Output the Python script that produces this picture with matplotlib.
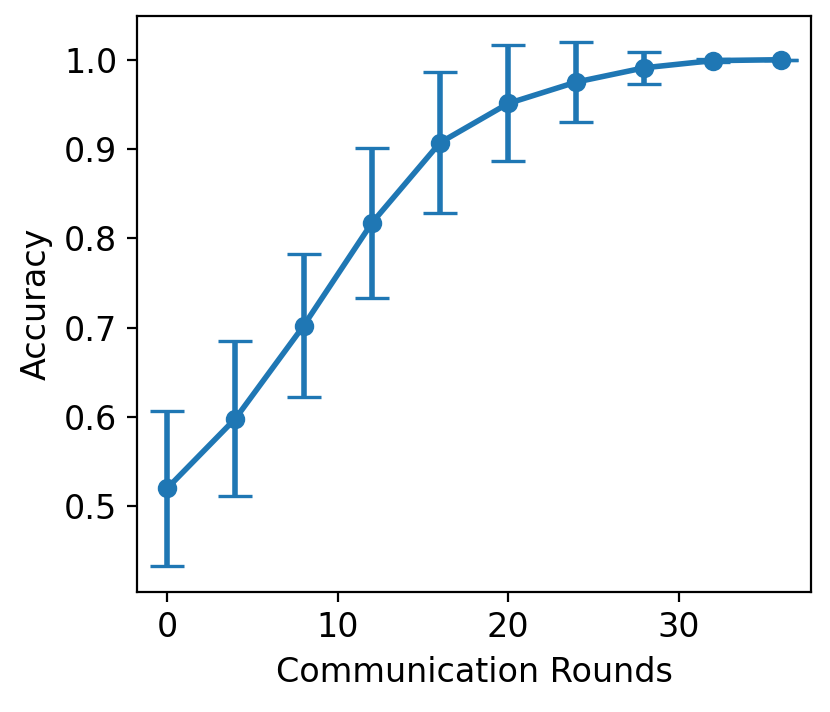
import matplotlib
matplotlib.use("Agg")
import matplotlib.pyplot as plt

rounds = [0, 4, 8, 12, 16, 20, 24, 28, 32, 36]
accuracy = [0.520, 0.598, 0.702, 0.817, 0.907, 0.951, 0.975, 0.991, 0.999, 1.000]
acc_err = [0.087, 0.087, 0.080, 0.084, 0.079, 0.065, 0.045, 0.018, 0.002, 0.000]

plt.rcParams['font.size'] = 12
fig = plt.figure(figsize=(4.15, 3.56), dpi=200)
ax = fig.add_axes([0.1646, 0.1685, 0.9777 - 0.1646, 0.978 - 0.1685])
ax.errorbar(rounds, accuracy, yerr=acc_err, fmt='-o', color='#1f77b4',
            linewidth=2, markersize=6, capsize=6, elinewidth=2, capthick=1.2)
ax.set_xlabel("Communication Rounds")
ax.set_ylabel("Accuracy")
fig.savefig("out.png", dpi=200)
